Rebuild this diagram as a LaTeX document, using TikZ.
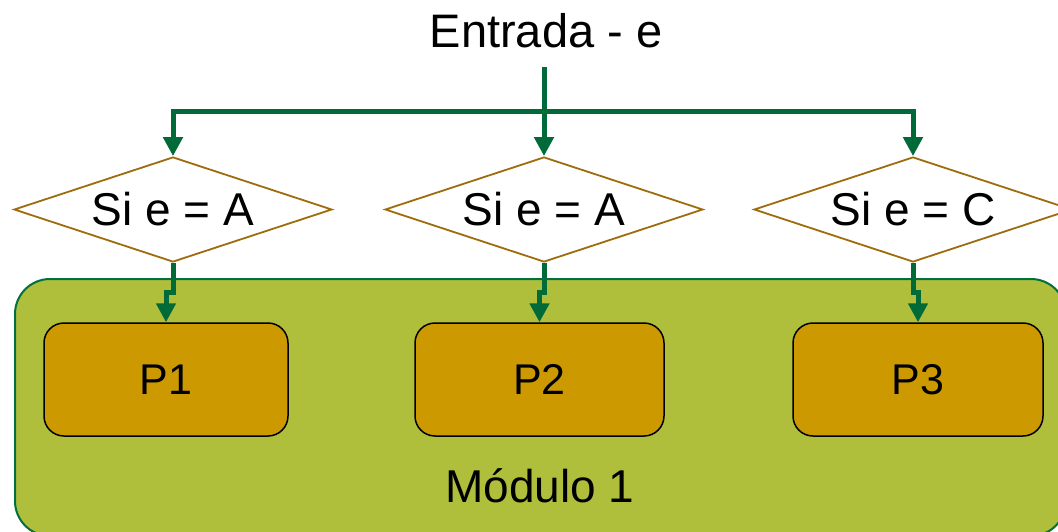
\documentclass[tikz,border=0pt]{standalone}
\usepackage{fontspec}
\setmainfont{Liberation Sans}
\usetikzlibrary{arrows.meta,shapes.geometric}
\definecolor{flowgreen}{RGB}{0,106,56}
\definecolor{modfill}{RGB}{175,191,59}
\definecolor{modline}{RGB}{0,112,60}
\definecolor{procfill}{RGB}{204,153,0}
\definecolor{testline}{RGB}{158,108,12}
\begin{document}
\begin{tikzpicture}[x=1pt,y=1pt,
  bigtext/.style={font=\fontsize{46}{52}\selectfont},
  test/.style={diamond, shape aspect=3.03, draw=testline, line width=1.8pt, fill=white,
    inner sep=0pt, minimum width=318pt, minimum height=105pt, bigtext},
  proc/.style={rectangle, rounded corners=20pt, draw=black, line width=1.5pt,
    fill=procfill, minimum width=244pt, minimum height=113pt, inner sep=0pt,
    font=\fontsize{43}{48}\selectfont},
  link/.style={draw=flowgreen, line width=5pt},
  flow/.style={link, -{Triangle[length=19pt,width=19pt]}}]

\useasboundingbox (0,0) rectangle (1058,-531);
\clip (0,0) rectangle (1058,-531);

% module container
\node[draw=modline, fill=modfill, rounded corners=35pt, line width=2pt,
  minimum width=1051pt, minimum height=257pt, inner sep=0pt,
  anchor=north west] (mod) at (14,-278) {};
\node[bigtext, anchor=base, inner sep=0pt] (modname) at (540,-502) {Módulo 1};

% input
\node[font=\fontsize{47}{52}\selectfont, anchor=base, inner sep=0pt] (in) at (546,-47) {Entrada - e};

% tests
\node[test] (t1) at (173,-209.5) {Si e = A};
\node[test] (t2) at (544,-209.5) {Si e = A};
\node[test] (t3) at (913,-209.5) {Si e = C};

% processes
\node[proc] (p1) at (166,-379.5) {P1};
\node[proc, minimum width=249pt] (p2) at (539.5,-379.5) {P2};
\node[proc, minimum width=250pt] (p3) at (918,-379.5) {P3};

% distribution of the input
\coordinate (stem) at (544,-67);
\coordinate (fork) at (544,-111);
\draw[link] (stem) -- (fork);
\draw[flow] (fork) -| (t1.north);
\draw[flow] (fork) -- (t2.north);
\draw[flow] (fork) -| (t3.north);

% tests to processes
\draw[flow] (t1.south) -- ++(0,-30) -| (p1.north);
\draw[flow] (t2.south) -- ++(0,-30) -| (p2.north);
\draw[flow] (t3.south) -- ++(0,-30) -| (p3.north);
\end{tikzpicture}
\end{document}
